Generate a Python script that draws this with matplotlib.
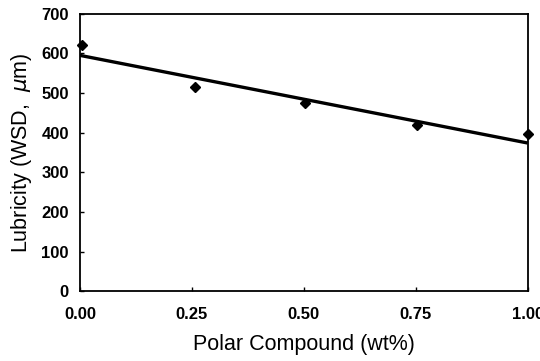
import numpy as np
import matplotlib
matplotlib.use("Agg")
import matplotlib.pyplot as plt

plt.rcParams['font.family'] = ['Liberation Sans', 'DejaVu Sans']

# measured points
polar_wt = [0.005, 0.257, 0.503, 0.753, 1.0]
wsd_um = [620, 514, 474, 419, 396]

# fitted trend line end points
fit_x = [0.0, 1.0]
fit_y = [595, 374]

xticks = [0.0, 0.25, 0.5, 0.75, 1.0]
xtick_labels = ['0.00', '0.25', '0.50', '0.75', '1.00']
yticks = [0, 100, 200, 300, 400, 500, 600, 700]

fig, ax = plt.subplots(figsize=(5.4, 3.61), dpi=100)
fig.subplots_adjust(left=0.148, right=0.977, top=0.962, bottom=0.193)

ax.plot(fit_x, fit_y, color='black', linewidth=2.4, solid_capstyle='butt')
ax.plot(polar_wt, wsd_um, linestyle='none', marker='D', markersize=5,
        color='black', clip_on=False, zorder=3)

ax.set_xlim(0, 1.0)
ax.set_ylim(0, 700)
ax.set_xticks(xticks)
ax.set_xticklabels(xtick_labels)
ax.set_yticks(yticks)
ax.tick_params(direction='in', length=3, width=1, labelsize=12)
ax.tick_params(axis='x', pad=11)
ax.tick_params(axis='y', pad=8)
for lab in ax.get_xticklabels() + ax.get_yticklabels():
    lab.set_fontweight('bold')
for s in ax.spines.values():
    s.set_linewidth(1.3)

ax.set_xlabel('Polar Compound (wt%)', fontsize=15.5, labelpad=9)
ax.set_ylabel(r'Lubricity (WSD,  $\mu$m)', fontsize=15.5, labelpad=5)

fig.savefig('out.png', dpi=100)
